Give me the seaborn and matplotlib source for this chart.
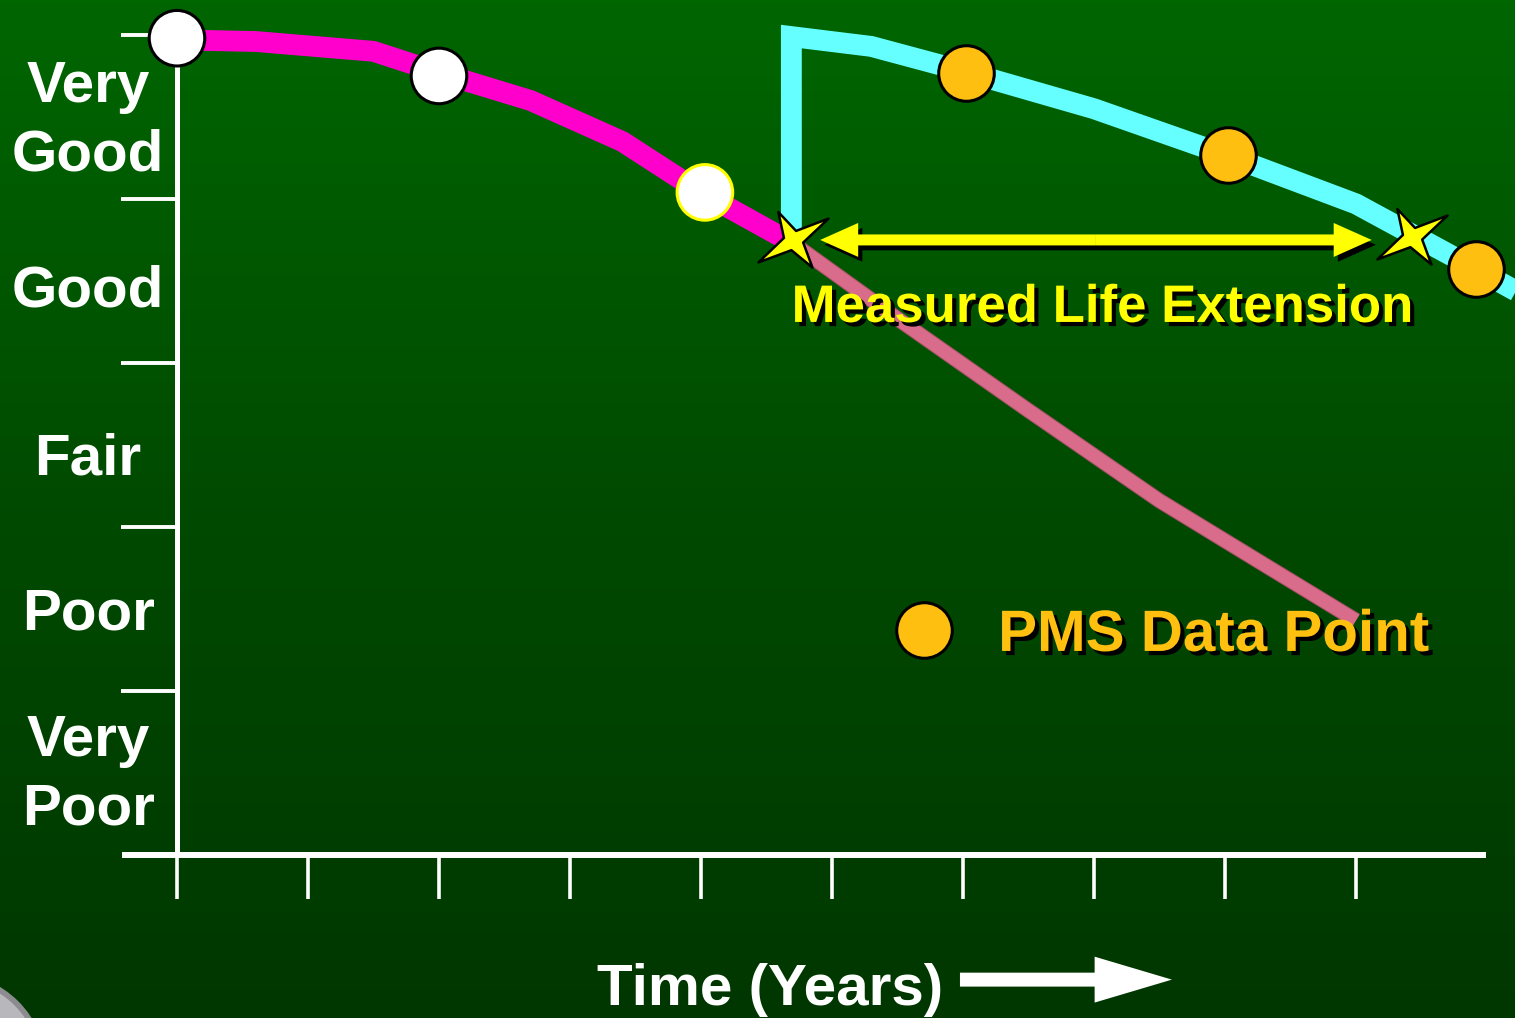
import numpy as np
import pandas as pd
import seaborn as sns
import matplotlib.pyplot as plt
from matplotlib import patheffects as pe
from matplotlib.patches import FancyArrow, Ellipse
from matplotlib.path import Path
from matplotlib.colors import LinearSegmentedColormap

sns.set_style('white')
plt.rcParams['font.family'] = ['Liberation Sans', 'DejaVu Sans']
plt.rcParams['font.weight'] = 'bold'

# %% data (time in years, condition 0 = bottom of "Very Poor" .. 5 = top of "Very Good")
cond_names = ['Very\nPoor', 'Poor', 'Fair', 'Good', 'Very\nGood']
cond_label_pos = [0.567, 1.5, 2.45, 3.47, 4.555]
cond_ticks = [1, 2, 3, 4, 5]
year_ticks = list(range(10))

time_orig = [0, 0.6, 1.5, 2.0, 2.7, 3.4, 4.0, 4.7]
cond_orig = [4.97, 4.96, 4.90, 4.77, 4.60, 4.35, 4.04, 3.73]

time_proj = [4.7, 5.5, 6.5, 7.5, 8.3, 9.0]
cond_proj = [3.73, 3.27, 2.71, 2.16, 1.77, 1.43]

time_treat = [4.69, 4.69, 5.3, 6.0, 7.0, 8.0, 9.0, 9.9, 10.4]
cond_treat = [3.80, 4.99, 4.93, 4.78, 4.55, 4.27, 3.97, 3.58, 3.36]

survey_time = [0, 2, 4.03]
survey_cond = [4.98, 4.75, 4.04]

pms_time = [6.02, 8.02, 9.92]
pms_cond = [4.77, 4.27, 3.57]

star_time = [4.70, 9.43]
star_cond = [3.75, 3.77]

ext_span = (4.91, 9.12)
ext_level = 3.75

legend_dot = (5.70, 1.37)

# %% figure
fig = plt.figure(figsize=(15.15, 10.18), dpi=100)
ax = fig.add_axes([0, 0, 1, 1])
xlim = (-1.351, 10.214)
ylim = (-0.994, 5.213)
ax.set_xlim(*xlim)
ax.set_ylim(*ylim)

# green gradient background
bg = LinearSegmentedColormap.from_list('bg', ['#006600', '#004a00', '#003700'])
ax.imshow(np.linspace(0, 1, 256).reshape(-1, 1), cmap=bg, aspect='auto',
          extent=[xlim[0], xlim[1], ylim[0], ylim[1]], origin='upper', zorder=0)

# curves
sns.lineplot(x=time_proj, y=cond_proj, color='#D96C8A', lw=9.5, estimator=None,
             sort=False, ax=ax, zorder=2, solid_capstyle='butt',
             path_effects=[pe.Stroke(linewidth=11, foreground='#a8506a'), pe.Normal()])
sns.lineplot(x=time_orig, y=cond_orig, color='#FF00CC', lw=15, estimator=None,
             sort=False, ax=ax, zorder=3, solid_capstyle='butt')
sns.lineplot(x=time_treat, y=cond_treat, color='#66FFFF', lw=15, estimator=None,
             sort=False, ax=ax, zorder=3, solid_capstyle='butt', solid_joinstyle='miter')

# life extension arrow (two halves from the middle)
mid = (ext_span[0] + ext_span[1]) / 2
shadow = [pe.withSimplePatchShadow(offset=(3, -3.5), shadow_rgbFace='black', alpha=1)]
for end in ext_span:
    ax.add_patch(FancyArrow(mid, ext_level, end - mid, 0, width=0.067, head_width=0.207,
                            head_length=0.29, length_includes_head=True,
                            color='#FFFF00', lw=0, zorder=4, path_effects=shadow))

# data points
sns.scatterplot(x=survey_time, y=survey_cond, s=1600, color='white',
                edgecolor=['black', 'black', '#FFFF00'], linewidth=2.2, ax=ax, zorder=5)
sns.scatterplot(x=pms_time, y=pms_cond, s=1600, color='#FFBF10',
                edgecolor='black', linewidth=2.2, ax=ax, zorder=5)
sns.scatterplot(x=[legend_dot[0]], y=[legend_dot[1]], s=1600, color='#FFBF10',
                edgecolor='black', linewidth=2.2, ax=ax, zorder=5)

# four-point stars
tip_ang = np.deg2rad([32, 118, 212, 305])
tip_r = [1.0, 0.78, 1.0, 0.8]
in_ang = np.deg2rad([75, 165, 258, 348])
verts = []
for a, r, b in zip(tip_ang, tip_r, in_ang):
    verts.append((r * np.cos(a), r * np.sin(a)))
    verts.append((0.24 * np.cos(b), 0.24 * np.sin(b)))
verts.append(verts[0])
codes = [Path.MOVETO] + [Path.LINETO] * (len(verts) - 2) + [Path.CLOSEPOLY]
star = Path(verts, codes)
sns.scatterplot(x=star_time, y=star_cond, marker=star, s=2540, color='#FFFF00',
                edgecolor='black', linewidth=1.8, ax=ax, zorder=6)

# axes
for side in ['top', 'right']:
    ax.spines[side].set_visible(False)
ax.spines['left'].set_position(('data', 0))
ax.spines['bottom'].set_position(('data', 0))
ax.spines['left'].set_bounds(0, 5.0)
ax.spines['bottom'].set_bounds(-0.4, 9.97)
ax.spines['left'].set_color('white')
ax.spines['bottom'].set_color('white')
ax.spines['left'].set_linewidth(3.6)
ax.spines['bottom'].set_linewidth(4.3)
ax.spines['left'].set_zorder(1)
ax.spines['bottom'].set_zorder(1)

ax.set_xticks(year_ticks)
ax.set_xticklabels([])
ax.tick_params(axis='x', bottom=True, direction='out', length=32, width=2.6, color='white')
ax.set_yticks(cond_ticks)
ax.set_yticklabels([])
ax.tick_params(axis='y', which='major', left=True, direction='out', length=40, width=2.8,
               color='white')
ax.set_yticks(cond_label_pos, labels=cond_names, minor=True)
ax.tick_params(axis='y', which='minor', left=True, length=0, pad=64, labelsize=42,
               labelcolor='white')
for lbl in ax.get_yticklabels(minor=True):
    lbl.set_ha('center')
    lbl.set_multialignment('center')
    lbl.set_fontweight('bold')
    lbl.set_linespacing(1.35)
ax.grid(False)
ax.set_xlabel('')
ax.set_ylabel('')

# labels
ax.text(7.06, 3.25, 'Measured Life Extension', color='#FFFF00', fontsize=38,
        fontweight='bold', ha='center', va='baseline', zorder=7,
        path_effects=[pe.withSimplePatchShadow(offset=(3, -3), shadow_rgbFace='black', alpha=1)])
ax.text(7.916, 1.244, 'PMS Data Point', color='#FFC010', fontsize=42,
        fontweight='bold', ha='center', va='baseline', zorder=7,
        path_effects=[pe.withSimplePatchShadow(offset=(3, -3), shadow_rgbFace='black', alpha=1)])
ax.text(4.53, -0.915, 'Time (Years)', color='white', fontsize=42, fontweight='bold',
        ha='center', va='baseline', zorder=7)
ax.add_patch(FancyArrow(5.977, -0.76, 1.618, 0, width=0.085, head_width=0.28,
                        head_length=0.59, length_includes_head=True, color='white',
                        lw=0, zorder=7))

# grey corner ornament of the slide
fig.patches.append(Ellipse((-0.033, -0.051), 0.124, 0.185, transform=fig.transFigure,
                           facecolor='#b8b8bc', edgecolor='#8c8c90', lw=4))

fig.savefig('out.png', dpi=100, facecolor='#004a00')
